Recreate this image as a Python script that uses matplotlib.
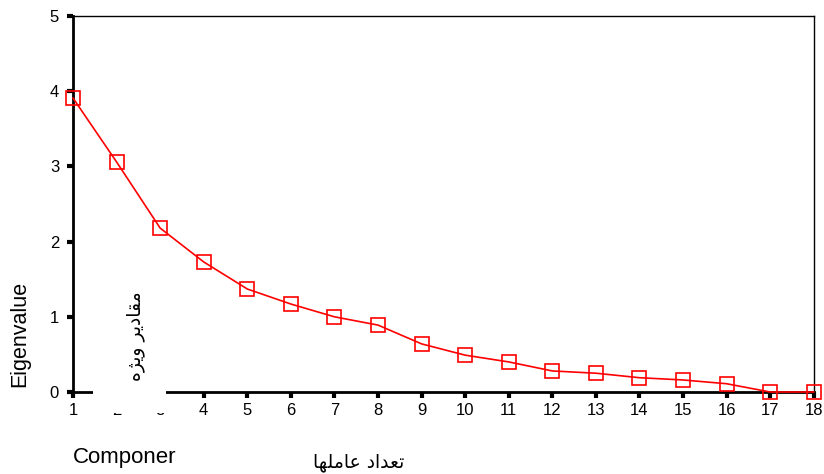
import matplotlib
matplotlib.use('Agg')
import matplotlib.pyplot as plt
from matplotlib.patches import Rectangle

# eigenvalues per component (scree plot)
components = list(range(1, 19))
eigenvalues = [3.91, 3.06, 2.18, 1.73, 1.37, 1.17, 1.00, 0.89, 0.64,
               0.49, 0.40, 0.28, 0.25, 0.19, 0.16, 0.11, 0.0, 0.0]
y_ticks = [0, 1, 2, 3, 4, 5]

# Persian labels, pre-shaped (presentation forms, visual order)
fa_xlabel = '\uFE8E\uFEEC\uFEE0\uFEE3\uFE8E\uFECB \uFEA9\uFE8D\uFEAA\uFECC\uFE97'   # تعداد عاملها
fa_ylabel = '\uFEE9\uFB8B\uFBFE\uFEED \uFEAE\uFBFE\uFEA9\uFE8E\uFED8\uFEE3'         # مقادیر ویژه

plt.rcParams['font.family'] = ['Liberation Sans', 'DejaVu Sans']

fig = plt.figure(figsize=(8.24, 4.74), dpi=100)
ax = fig.add_axes([0.0886, 0.173, 0.899, 0.793])

ax.plot(components, eigenvalues, color='red', lw=1.2, marker='s', ms=9.5,
        mfc='none', mec='red', mew=1.2, clip_on=False, zorder=3)

ax.set_xlim(1, 18)
ax.set_ylim(0, 5)
ax.set_xticks(components)
ax.set_yticks(y_ticks)
ax.tick_params(axis='x', direction='out', length=4, width=3, labelsize=12, pad=4)
ax.tick_params(axis='y', direction='out', length=4, width=3, labelsize=12, pad=6)
for s in ['left', 'bottom']:
    ax.spines[s].set_linewidth(2)
for s in ['top', 'right']:
    ax.spines[s].set_linewidth(1)

fig.text(0.024, 0.295, 'Eigenvalue', rotation=90, fontsize=15.5,
         ha='center', va='center')
fig.text(0.088, 0.035, 'Componer', fontsize=16, ha='left', va='center')
fig.text(0.435, 0.025, fa_xlabel, fontsize=13.5, ha='center', va='center',
         family=['DejaVu Sans'])

# white box covering part of the axis, with rotated Persian label
fig.patches.append(Rectangle((93 / 824, 1 - 413 / 474), 73 / 824, 130 / 474,
                             transform=fig.transFigure, facecolor='white',
                             edgecolor='none', zorder=5))
fig.text(0.164, 0.29, fa_ylabel, rotation=90, fontsize=13.5, ha='center',
         va='center', family=['DejaVu Sans'], zorder=6)

fig.savefig('out.png', dpi=100)
